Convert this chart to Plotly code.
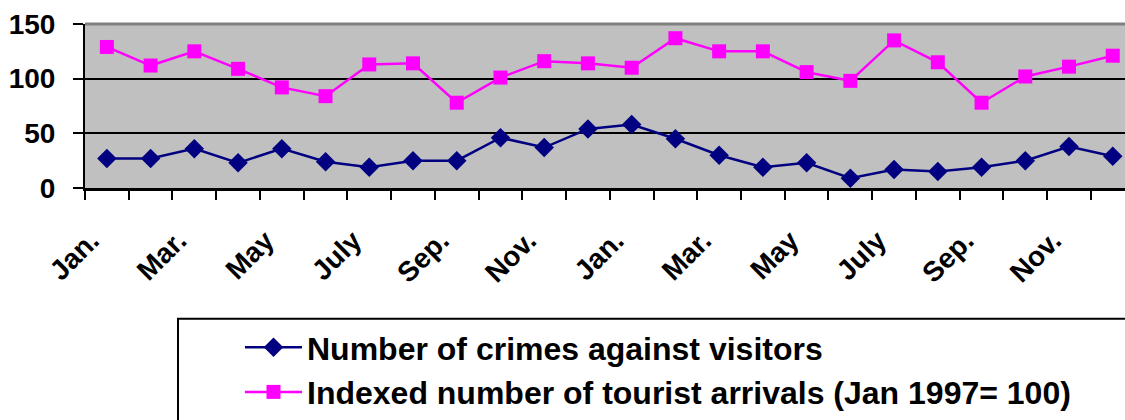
import plotly.graph_objects as go

months = ["Jan.", "Feb.", "Mar.", "Apr.", "May", "June", "July", "Aug.", "Sep.", "Oct.", "Nov.", "Dec."] * 2
crimes = [27, 27, 36, 23, 36, 24, 19, 25, 25, 46, 37, 54,
          58, 45, 30, 19, 23, 9, 17, 15, 19, 25, 38, 29]
arrivals = [129, 112, 125, 109, 92, 84, 113, 114, 78, 101, 116, 114,
            110, 137, 125, 125, 106, 98, 135, 115, 78, 102, 111, 121]
label_months = ["Jan.", "Mar.", "May", "July", "Sep.", "Nov."] * 2
y_ticks = [0, 50, 100, 150]

idx = list(range(len(months)))
FONT = "Liberation Sans, Arial, sans-serif"

fig = go.Figure()
fig.add_trace(go.Scatter(
    x=idx, y=crimes, mode="lines+markers", name="Number of crimes against visitors",
    line=dict(color="#000080", width=2.5),
    marker=dict(symbol="diamond", size=15, color="#000080"),
))
fig.add_trace(go.Scatter(
    x=idx, y=arrivals, mode="lines+markers",
    name="Indexed number of tourist arrivals (Jan 1997= 100)",
    line=dict(color="#FF00FF", width=2.5),
    marker=dict(symbol="square", size=14, color="#FF00FF"),
))

fig.update_layout(
    width=1125, height=420,
    margin=dict(l=85, r=0, t=24, b=228),
    paper_bgcolor="white", plot_bgcolor="#C0C0C0",
    font=dict(family=FONT, color="black"),
    showlegend=True,
    legend=dict(
        x=(240 - 85) / 1040, y=(192 - 328) / 168, xanchor="left", yanchor="top",
        font=dict(size=32, family=FONT, weight="bold", color="black"),
        bgcolor="rgba(0,0,0,0)", borderwidth=0, itemwidth=57,
        tracegroupgap=0,
    ),
    xaxis=dict(
        range=[-0.5, 23.28], tickmode="array",
        tickvals=[i for i in idx if i % 2 == 0],
        ticktext=label_months, tickangle=-45,
        tickfont=dict(size=28, family=FONT, weight="bold", color="black"),
        ticks="", showgrid=False, zeroline=False,
        showline=True, linecolor="black", linewidth=3,
        ticklabelstandoff=22, ticklabelshift=-16,
        minor=dict(tickmode="linear", tick0=-0.5, dtick=1, ticks="outside",
                   ticklen=9, tickwidth=2, tickcolor="black", showgrid=False),
    ),
    yaxis=dict(
        range=[0, 150], tickvals=y_ticks,
        tickfont=dict(size=28, family=FONT, weight="bold", color="black"),
        ticks="outside", ticklen=10, tickwidth=2, tickcolor="black",
        showgrid=True, gridcolor="black", gridwidth=2, zeroline=False,
        showline=True, linecolor="black", linewidth=2,
        ticklabelstandoff=12,
    ),
    shapes=[
        dict(type="line", xref="paper", yref="paper", x0=0, x1=1.01, y0=1, y1=1,
             line=dict(color="#808080", width=3)),
        dict(type="rect", xref="paper", yref="paper",
             x0=(178 - 85) / 1040, x1=1.05,
             y0=(192 - 326) / 168, y1=(192 - 440) / 168,
             line=dict(color="black", width=2), fillcolor="rgba(0,0,0,0)"),
    ],
)

fig.write_html("out.html")
